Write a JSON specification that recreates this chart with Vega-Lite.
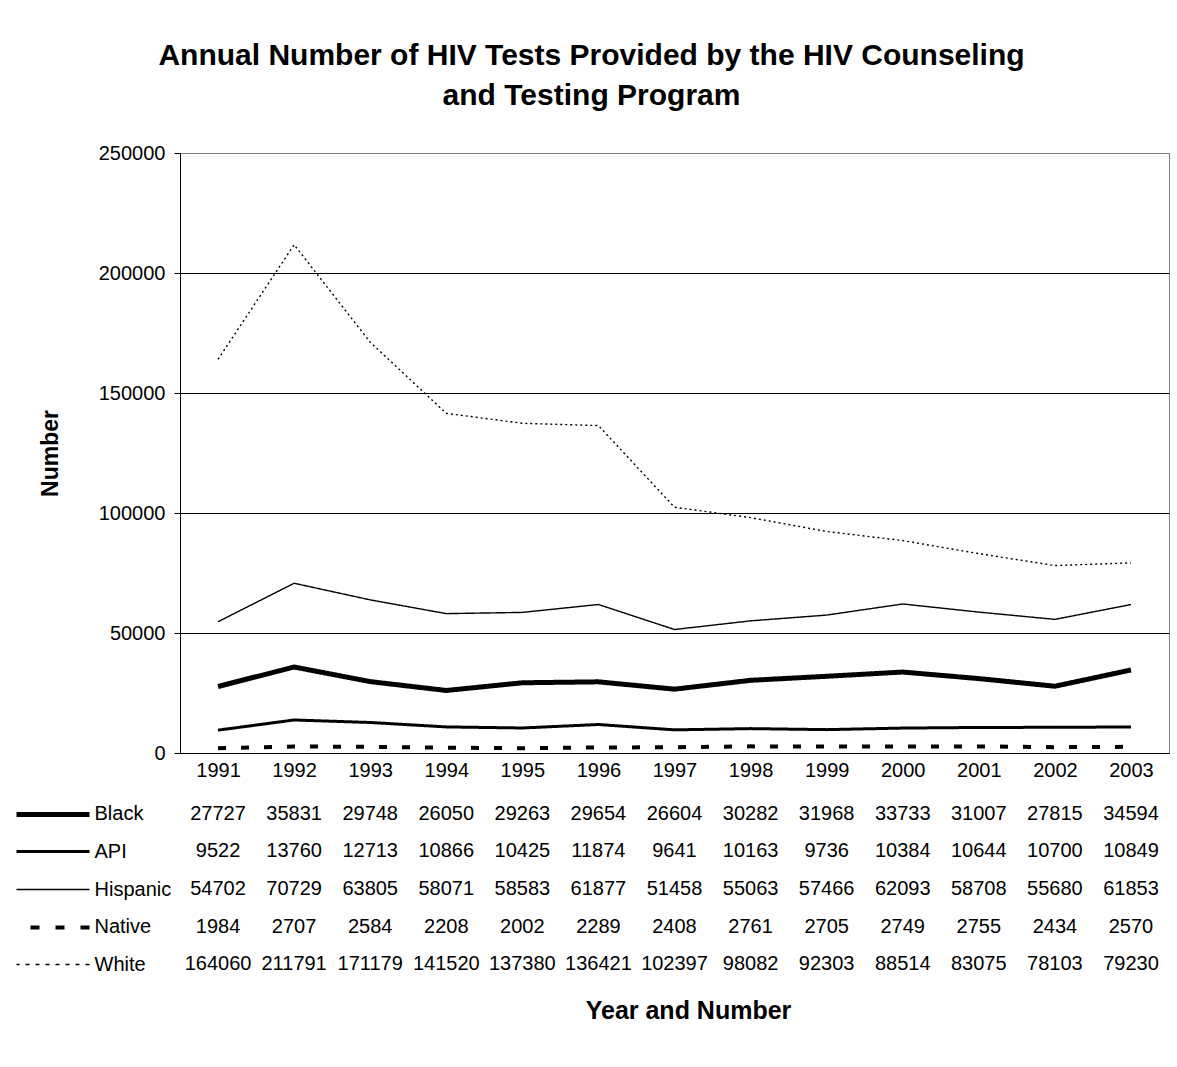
{
  "$schema": "https://vega.github.io/schema/vega-lite/v6.json",
  "background": "white",
  "padding": {"left": 13, "top": 40, "right": 9, "bottom": 10},
  "title": {
    "text": ["Annual Number of HIV Tests Provided by the HIV Counseling", "and Testing Program"],
    "fontSize": 30,
    "fontWeight": "bold",
    "lineHeight": 40,
    "anchor": "middle",
    "frame": "bounds",
    "offset": 32,
    "color": "black"
  },
  "datasets": {
    "tests": [
      {"year": "1991", "series": "Black", "value": 27727},
      {"year": "1992", "series": "Black", "value": 35831},
      {"year": "1993", "series": "Black", "value": 29748},
      {"year": "1994", "series": "Black", "value": 26050},
      {"year": "1995", "series": "Black", "value": 29263},
      {"year": "1996", "series": "Black", "value": 29654},
      {"year": "1997", "series": "Black", "value": 26604},
      {"year": "1998", "series": "Black", "value": 30282},
      {"year": "1999", "series": "Black", "value": 31968},
      {"year": "2000", "series": "Black", "value": 33733},
      {"year": "2001", "series": "Black", "value": 31007},
      {"year": "2002", "series": "Black", "value": 27815},
      {"year": "2003", "series": "Black", "value": 34594},
      {"year": "1991", "series": "API", "value": 9522},
      {"year": "1992", "series": "API", "value": 13760},
      {"year": "1993", "series": "API", "value": 12713},
      {"year": "1994", "series": "API", "value": 10866},
      {"year": "1995", "series": "API", "value": 10425},
      {"year": "1996", "series": "API", "value": 11874},
      {"year": "1997", "series": "API", "value": 9641},
      {"year": "1998", "series": "API", "value": 10163},
      {"year": "1999", "series": "API", "value": 9736},
      {"year": "2000", "series": "API", "value": 10384},
      {"year": "2001", "series": "API", "value": 10644},
      {"year": "2002", "series": "API", "value": 10700},
      {"year": "2003", "series": "API", "value": 10849},
      {"year": "1991", "series": "Hispanic", "value": 54702},
      {"year": "1992", "series": "Hispanic", "value": 70729},
      {"year": "1993", "series": "Hispanic", "value": 63805},
      {"year": "1994", "series": "Hispanic", "value": 58071},
      {"year": "1995", "series": "Hispanic", "value": 58583},
      {"year": "1996", "series": "Hispanic", "value": 61877},
      {"year": "1997", "series": "Hispanic", "value": 51458},
      {"year": "1998", "series": "Hispanic", "value": 55063},
      {"year": "1999", "series": "Hispanic", "value": 57466},
      {"year": "2000", "series": "Hispanic", "value": 62093},
      {"year": "2001", "series": "Hispanic", "value": 58708},
      {"year": "2002", "series": "Hispanic", "value": 55680},
      {"year": "2003", "series": "Hispanic", "value": 61853},
      {"year": "1991", "series": "Native", "value": 1984},
      {"year": "1992", "series": "Native", "value": 2707},
      {"year": "1993", "series": "Native", "value": 2584},
      {"year": "1994", "series": "Native", "value": 2208},
      {"year": "1995", "series": "Native", "value": 2002},
      {"year": "1996", "series": "Native", "value": 2289},
      {"year": "1997", "series": "Native", "value": 2408},
      {"year": "1998", "series": "Native", "value": 2761},
      {"year": "1999", "series": "Native", "value": 2705},
      {"year": "2000", "series": "Native", "value": 2749},
      {"year": "2001", "series": "Native", "value": 2755},
      {"year": "2002", "series": "Native", "value": 2434},
      {"year": "2003", "series": "Native", "value": 2570},
      {"year": "1991", "series": "White", "value": 164060},
      {"year": "1992", "series": "White", "value": 211791},
      {"year": "1993", "series": "White", "value": 171179},
      {"year": "1994", "series": "White", "value": 141520},
      {"year": "1995", "series": "White", "value": 137380},
      {"year": "1996", "series": "White", "value": 136421},
      {"year": "1997", "series": "White", "value": 102397},
      {"year": "1998", "series": "White", "value": 98082},
      {"year": "1999", "series": "White", "value": 92303},
      {"year": "2000", "series": "White", "value": 88514},
      {"year": "2001", "series": "White", "value": 83075},
      {"year": "2002", "series": "White", "value": 78103},
      {"year": "2003", "series": "White", "value": 79230}
    ]
  },
  "spacing": 14,
  "vconcat": [
    {
      "width": 989,
      "height": 600,
      "view": {"stroke": "#808080", "strokeWidth": 1},
      "data": {"name": "tests"},
      "mark": {"type": "line", "color": "black", "strokeCap": "butt", "strokeJoin": "round"},
      "encoding": {
        "x": {
          "field": "year",
          "type": "ordinal",
          "scale": {"type": "point", "padding": 0.5},
          "axis": {
            "title": null,
            "labelAngle": 0,
            "ticks": false,
            "labelPadding": 7,
            "labelFontSize": 20,
            "domainColor": "black",
            "grid": false
          }
        },
        "y": {
          "field": "value",
          "type": "quantitative",
          "scale": {"domain": [0, 250000], "nice": false},
          "axis": {
            "values": [0, 50000, 100000, 150000, 200000, 250000],
            "format": "d",
            "title": "Number",
            "titleFontSize": 23,
            "titleFontWeight": "bold",
            "titlePadding": 36,
            "labelFontSize": 20,
            "labelPadding": 9,
            "tickSize": 6,
            "tickColor": "black",
            "domainColor": "black",
            "grid": true,
            "gridColor": {"condition": {"test": "datum.value === 250000", "value": "#808080"}, "value": "black"}
          }
        },
        "strokeWidth": {
          "field": "series",
          "type": "nominal",
          "scale": {"type": "ordinal", "domain": ["Black", "API", "Hispanic", "Native", "White"], "range": [5, 3, 1.4, 4, 1.4]},
          "legend": null
        },
        "strokeDash": {
          "field": "series",
          "type": "nominal",
          "scale": {"type": "ordinal", "domain": ["Black", "API", "Hispanic", "Native", "White"], "range": [[1, 0], [1, 0], [1, 0], [8, 15], [2, 3]]},
          "legend": null
        }
      }
    },
    {
      "width": 989,
      "height": 188,
      "view": {"stroke": null},
      "data": {"name": "tests"},
      "mark": {"type": "text", "fontSize": 20, "color": "black", "baseline": "middle"},
      "encoding": {
        "x": {
          "field": "year",
          "type": "ordinal",
          "scale": {"type": "point", "padding": 0.5},
          "axis": {
            "labels": false,
            "ticks": false,
            "domain": false,
            "grid": false,
            "title": "Year and Number",
            "titleFontSize": 25,
            "titleFontWeight": "bold",
            "titlePadding": 15,
            "titleX": 508
          }
        },
        "y": {
          "field": "series",
          "type": "nominal",
          "scale": {"type": "point", "padding": 0.5, "domain": ["Black", "API", "Hispanic", "Native", "White"]},
          "axis": {
            "title": null,
            "orient": "left",
            "offset": 91,
            "domain": false,
            "grid": false,
            "tickSize": 73,
            "tickColor": "black",
            "tickCap": "butt",
            "tickWidth": {
              "condition": [
                {"test": "datum.value === 'Black'", "value": 5},
                {"test": "datum.value === 'API'", "value": 3},
                {"test": "datum.value === 'Native'", "value": 4}
              ],
              "value": 1.4
            },
            "tickDash": {
              "condition": [
                {"test": "datum.value === 'Native'", "value": [9, 16]},
                {"test": "datum.value === 'White'", "value": [4, 6]}
              ],
              "value": [1, 0]
            },
            "labelAlign": "left",
            "labelBaseline": "middle",
            "labelPadding": -78,
            "labelFontSize": 20
          }
        },
        "text": {"field": "value", "type": "quantitative", "format": "d"}
      }
    }
  ],
  "config": {
    "font": "Liberation Sans",
    "axis": {"labelColor": "black", "titleColor": "black", "labelFont": "Liberation Sans", "titleFont": "Liberation Sans"},
    "text": {"font": "Liberation Sans"}
  }
}
